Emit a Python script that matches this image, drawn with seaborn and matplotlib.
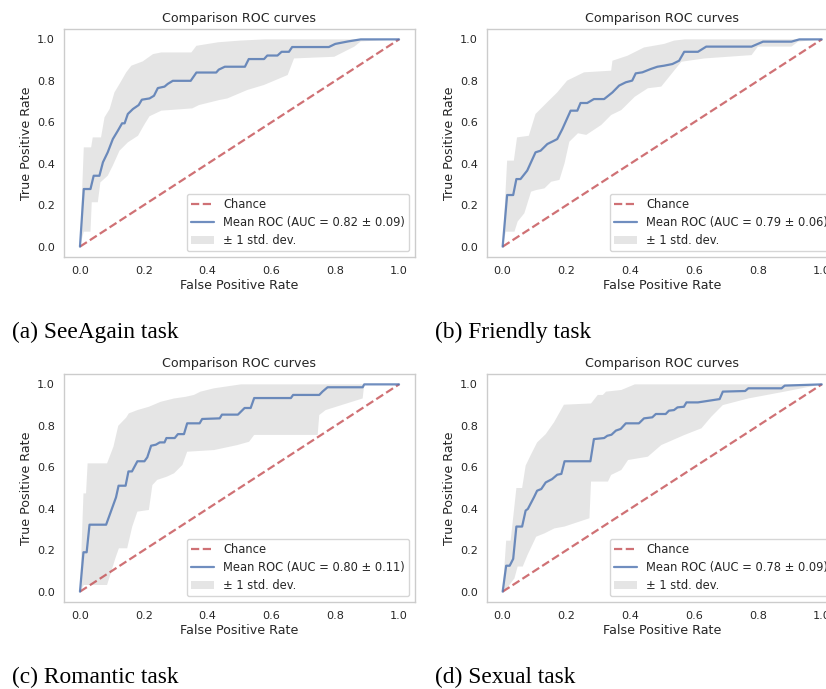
import numpy as np
import pandas as pd
import matplotlib
matplotlib.use("Agg")
import matplotlib.pyplot as plt
import seaborn as sns

# ---------------- data ----------------
titles = ["(a) SeeAgain task", "(b) Friendly task", "(c) Romantic task", "(d) Sexual task"]
auc_labels = ["Mean ROC (AUC = 0.82 \u00b1 0.09)", "Mean ROC (AUC = 0.79 \u00b1 0.06)",
              "Mean ROC (AUC = 0.80 \u00b1 0.11)", "Mean ROC (AUC = 0.78 \u00b1 0.09)"]
chance_x = [0.0, 1.0]
chance_y = [0.0, 1.0]
ticks = [0.0, 0.2, 0.4, 0.6, 0.8, 1.0]

# (a) SeeAgain
mean_x_a = [0, 0.012, 0.033, 0.043, 0.061, 0.072, 0.087, 0.103, 0.119, 0.132, 0.140, 0.150, 0.166, 0.184, 0.194,
            0.218, 0.232, 0.244, 0.265, 0.275, 0.291, 0.347, 0.365, 0.427, 0.435, 0.454, 0.517, 0.529, 0.577, 0.587,
            0.619, 0.632, 0.655, 0.665, 0.78, 0.80, 0.84, 0.88, 1.0]
mean_y_a = [0, 0.278, 0.278, 0.342, 0.342, 0.407, 0.455, 0.519, 0.56, 0.595, 0.595, 0.64, 0.664, 0.683, 0.709,
            0.715, 0.728, 0.765, 0.772, 0.785, 0.80, 0.80, 0.84, 0.84, 0.854, 0.868, 0.868, 0.905, 0.905, 0.922,
            0.922, 0.94, 0.94, 0.963, 0.963, 0.978, 0.99, 1.0, 1.0]
up_x_a = [0, 0.012, 0.035, 0.040, 0.066, 0.077, 0.093, 0.108, 0.124, 0.145, 0.161, 0.197, 0.229, 0.255, 0.349,
          0.365, 0.433, 0.50, 0.579, 1.0]
up_y_a = [0, 0.479, 0.479, 0.527, 0.527, 0.624, 0.664, 0.744, 0.785, 0.841, 0.873, 0.894, 0.929, 0.937, 0.937,
          0.969, 0.986, 0.994, 1.0, 1.0]
lo_x_a = [0, 0.012, 0.033, 0.037, 0.056, 0.064, 0.087, 0.103, 0.124, 0.150, 0.182, 0.203, 0.218, 0.255, 0.352,
          0.373, 0.436, 0.462, 0.525, 0.577, 0.651, 0.671, 0.797, 0.86, 0.88, 1.0]
lo_y_a = [0, 0.072, 0.072, 0.214, 0.214, 0.31, 0.342, 0.391, 0.463, 0.503, 0.535, 0.592, 0.629, 0.656, 0.667,
          0.683, 0.707, 0.715, 0.756, 0.78, 0.828, 0.908, 0.916, 0.965, 0.99, 1.0]

# (b) Friendly
mean_x_b = [0, 0.014, 0.033, 0.043, 0.056, 0.077, 0.103, 0.119, 0.140, 0.161, 0.171, 0.187, 0.213, 0.234, 0.244,
            0.265, 0.286, 0.318, 0.344, 0.365, 0.386, 0.406, 0.417, 0.438, 0.464, 0.485, 0.506, 0.532, 0.553, 0.569,
            0.612, 0.638, 0.78, 0.816, 0.905, 0.93, 1.0]
mean_y_b = [0, 0.249, 0.249, 0.326, 0.326, 0.367, 0.455, 0.463, 0.495, 0.511, 0.519, 0.567, 0.656, 0.656, 0.693,
            0.693, 0.712, 0.712, 0.744, 0.777, 0.793, 0.801, 0.836, 0.841, 0.857, 0.868, 0.873, 0.881, 0.897, 0.94,
            0.94, 0.965, 0.965, 0.989, 0.989, 1.0, 1.0]
up_x_b = [0, 0.014, 0.035, 0.045, 0.082, 0.103, 0.134, 0.171, 0.202, 0.255, 0.34, 0.344, 0.391, 0.443, 0.506,
          0.537, 0.57, 1.0]
up_y_b = [0, 0.415, 0.415, 0.527, 0.535, 0.640, 0.688, 0.744, 0.801, 0.841, 0.849, 0.897, 0.921, 0.961, 0.978,
          0.994, 1.0, 1.0]
lo_x_b = [0, 0.01, 0.037, 0.047, 0.068, 0.089, 0.105, 0.131, 0.152, 0.178, 0.194, 0.209, 0.236, 0.262, 0.309,
          0.34, 0.372, 0.414, 0.455, 0.497, 0.56, 0.633, 0.78, 0.80, 0.905, 0.926, 1.0]
lo_y_b = [0, 0.072, 0.072, 0.121, 0.161, 0.265, 0.273, 0.281, 0.313, 0.322, 0.402, 0.506, 0.547, 0.539, 0.587,
          0.635, 0.659, 0.723, 0.764, 0.772, 0.892, 0.908, 0.924, 0.965, 0.965, 0.989, 1.0]

# (c) Romantic
mean_x_c = [0, 0.011, 0.021, 0.030, 0.082, 0.098, 0.113, 0.121, 0.143, 0.152, 0.163, 0.180, 0.202, 0.211, 0.223,
            0.238, 0.250, 0.265, 0.271, 0.297, 0.307, 0.326, 0.336, 0.375, 0.383, 0.438, 0.445, 0.495, 0.516, 0.535,
            0.546, 0.661, 0.668, 0.75, 0.76, 0.776, 0.886, 0.891, 1.0]
mean_y_c = [0, 0.19, 0.19, 0.323, 0.323, 0.391, 0.455, 0.511, 0.511, 0.580, 0.580, 0.629, 0.629, 0.648, 0.704,
            0.709, 0.720, 0.720, 0.741, 0.741, 0.760, 0.760, 0.812, 0.812, 0.833, 0.836, 0.854, 0.854, 0.886, 0.886,
            0.934, 0.934, 0.949, 0.949, 0.965, 0.986, 0.986, 1.0, 1.0]
up_x_c = [0, 0.011, 0.019, 0.024, 0.085, 0.105, 0.12, 0.145, 0.153, 0.18, 0.216, 0.253, 0.295, 0.331, 0.357,
          0.378, 0.42, 0.504, 1.0]
up_y_c = [0, 0.474, 0.474, 0.619, 0.619, 0.70, 0.80, 0.84, 0.86, 0.876, 0.892, 0.916, 0.932, 0.94, 0.949,
          0.965, 0.981, 1.0, 1.0]
lo_x_c = [0, 0.012, 0.085, 0.111, 0.122, 0.148, 0.164, 0.18, 0.216, 0.227, 0.242, 0.273, 0.295, 0.321, 0.336,
          0.42, 0.493, 0.53, 0.546, 0.745, 0.75, 0.77, 0.886, 0.891, 1.0]
lo_y_c = [0, 0.032, 0.032, 0.161, 0.209, 0.209, 0.314, 0.386, 0.394, 0.514, 0.539, 0.555, 0.571, 0.611, 0.675,
          0.683, 0.707, 0.723, 0.756, 0.756, 0.852, 0.876, 0.932, 1.0, 1.0]

# (d) Sexual
mean_x_d = [0, 0.011, 0.022, 0.033, 0.043, 0.061, 0.072, 0.079, 0.098, 0.108, 0.121, 0.135, 0.155, 0.171, 0.184,
            0.194, 0.275, 0.286, 0.318, 0.328, 0.341, 0.355, 0.37, 0.386, 0.427, 0.443, 0.469, 0.48, 0.511, 0.521,
            0.537, 0.548, 0.568, 0.576, 0.612, 0.68, 0.69, 0.76, 0.77, 0.874, 0.884, 1.0]
mean_y_d = [0, 0.125, 0.125, 0.158, 0.314, 0.314, 0.391, 0.399, 0.455, 0.487, 0.495, 0.527, 0.543, 0.564, 0.568,
            0.629, 0.629, 0.736, 0.741, 0.752, 0.757, 0.777, 0.785, 0.812, 0.812, 0.836, 0.841, 0.857, 0.857, 0.873,
            0.876, 0.889, 0.892, 0.913, 0.913, 0.929, 0.965, 0.968, 0.981, 0.981, 0.994, 1.0]
up_x_d = [0, 0.011, 0.025, 0.043, 0.061, 0.072, 0.087, 0.108, 0.135, 0.161, 0.192, 0.277, 0.298, 0.314, 0.324,
          0.372, 0.414, 1.0]
up_y_d = [0, 0.246, 0.246, 0.5, 0.5, 0.608, 0.656, 0.72, 0.76, 0.817, 0.902, 0.908, 0.949, 0.949, 0.965,
          0.973, 1.0, 1.0]
lo_x_d = [0, 0.005, 0.037, 0.047, 0.063, 0.078, 0.105, 0.131, 0.162, 0.194, 0.272, 0.277, 0.33, 0.34, 0.372,
          0.393, 0.455, 0.497, 0.57, 0.623, 0.654, 0.69, 0.77, 0.884, 1.0]
lo_y_d = [0, 0.0, 0.064, 0.121, 0.121, 0.177, 0.265, 0.281, 0.305, 0.314, 0.354, 0.531, 0.531, 0.563, 0.587,
          0.635, 0.651, 0.707, 0.756, 0.788, 0.844, 0.90, 0.932, 0.965, 1.0]

panels = [
    (mean_x_a, mean_y_a, up_x_a, up_y_a, lo_x_a, lo_y_a),
    (mean_x_b, mean_y_b, up_x_b, up_y_b, lo_x_b, lo_y_b),
    (mean_x_c, mean_y_c, up_x_c, up_y_c, lo_x_c, lo_y_c),
    (mean_x_d, mean_y_d, up_x_d, up_y_d, lo_x_d, lo_y_d),
]

# ---------------- style ----------------
sns.set_theme(style="whitegrid")
plt.rcParams["font.family"] = ["DejaVu Sans"]
TEXT = "0.15"
BLUE = sns.color_palette("deep")[0]
RED = sns.color_palette("deep")[3]

W, H = 826, 689
fig = plt.figure(figsize=(W / 100, H / 100), dpi=100)

# axes boxes in pixels: left, top, width, height
boxes = [(64, 29), (486.7, 29), (64, 374), (486.7, 374)]
ax_w, ax_h = 351, 228
caption_pos = [(12, 338), (435, 338), (12, 683), (435, 683)]

for i, (mx, my, ux, uy, lx, ly) in enumerate(panels):
    l, t = boxes[i]
    ax = fig.add_axes([l / W, (H - t - ax_h) / H, ax_w / W, ax_h / H])
    ax.grid(False)
    sns.lineplot(x=chance_x, y=chance_y, ax=ax, color=RED, linestyle="--", lw=1.6,
                 alpha=0.8, label="Chance", estimator=None, sort=False)
    sns.lineplot(x=mx, y=my, ax=ax, color=BLUE, lw=1.6, alpha=0.8,
                 label=auc_labels[i], estimator=None, sort=False)
    poly_x = list(ux) + list(lx)[::-1]
    poly_y = list(uy) + list(ly)[::-1]
    ax.fill(poly_x, poly_y, color="grey", alpha=0.2, lw=0, label="\u00b1 1 std. dev.")
    ax.set_xlim(-0.05, 1.05)
    ax.set_ylim(-0.05, 1.05)
    ax.set_xticks(ticks)
    ax.set_yticks(ticks)
    ax.tick_params(labelsize=8.1, colors=TEXT, pad=6.5, length=0)
    ax.set_xlabel("False Positive Rate", fontsize=9.1, color=TEXT, labelpad=2)
    ax.set_ylabel("True Positive Rate", fontsize=9.1, color=TEXT, labelpad=3)
    ax.set_title("Comparison ROC curves", fontsize=9.1, color=TEXT, pad=5)
    for s in ax.spines.values():
        s.set_color("0.8")
        s.set_linewidth(1.0)
    leg = ax.legend(loc="lower right", fontsize=8.3, labelspacing=0.45, borderaxespad=0.5,
                    borderpad=0.35, frameon=True, handlelength=2.0)
    for txt in leg.get_texts():
        txt.set_color(TEXT)
    leg.get_frame().set_edgecolor("0.8")

    cx, cy = caption_pos[i]
    fig.text(cx / W, (H - cy) / H, titles[i], fontsize=16.8, family="Liberation Serif",
             color="black", ha="left", va="baseline")

fig.savefig("out.png", dpi=100)
